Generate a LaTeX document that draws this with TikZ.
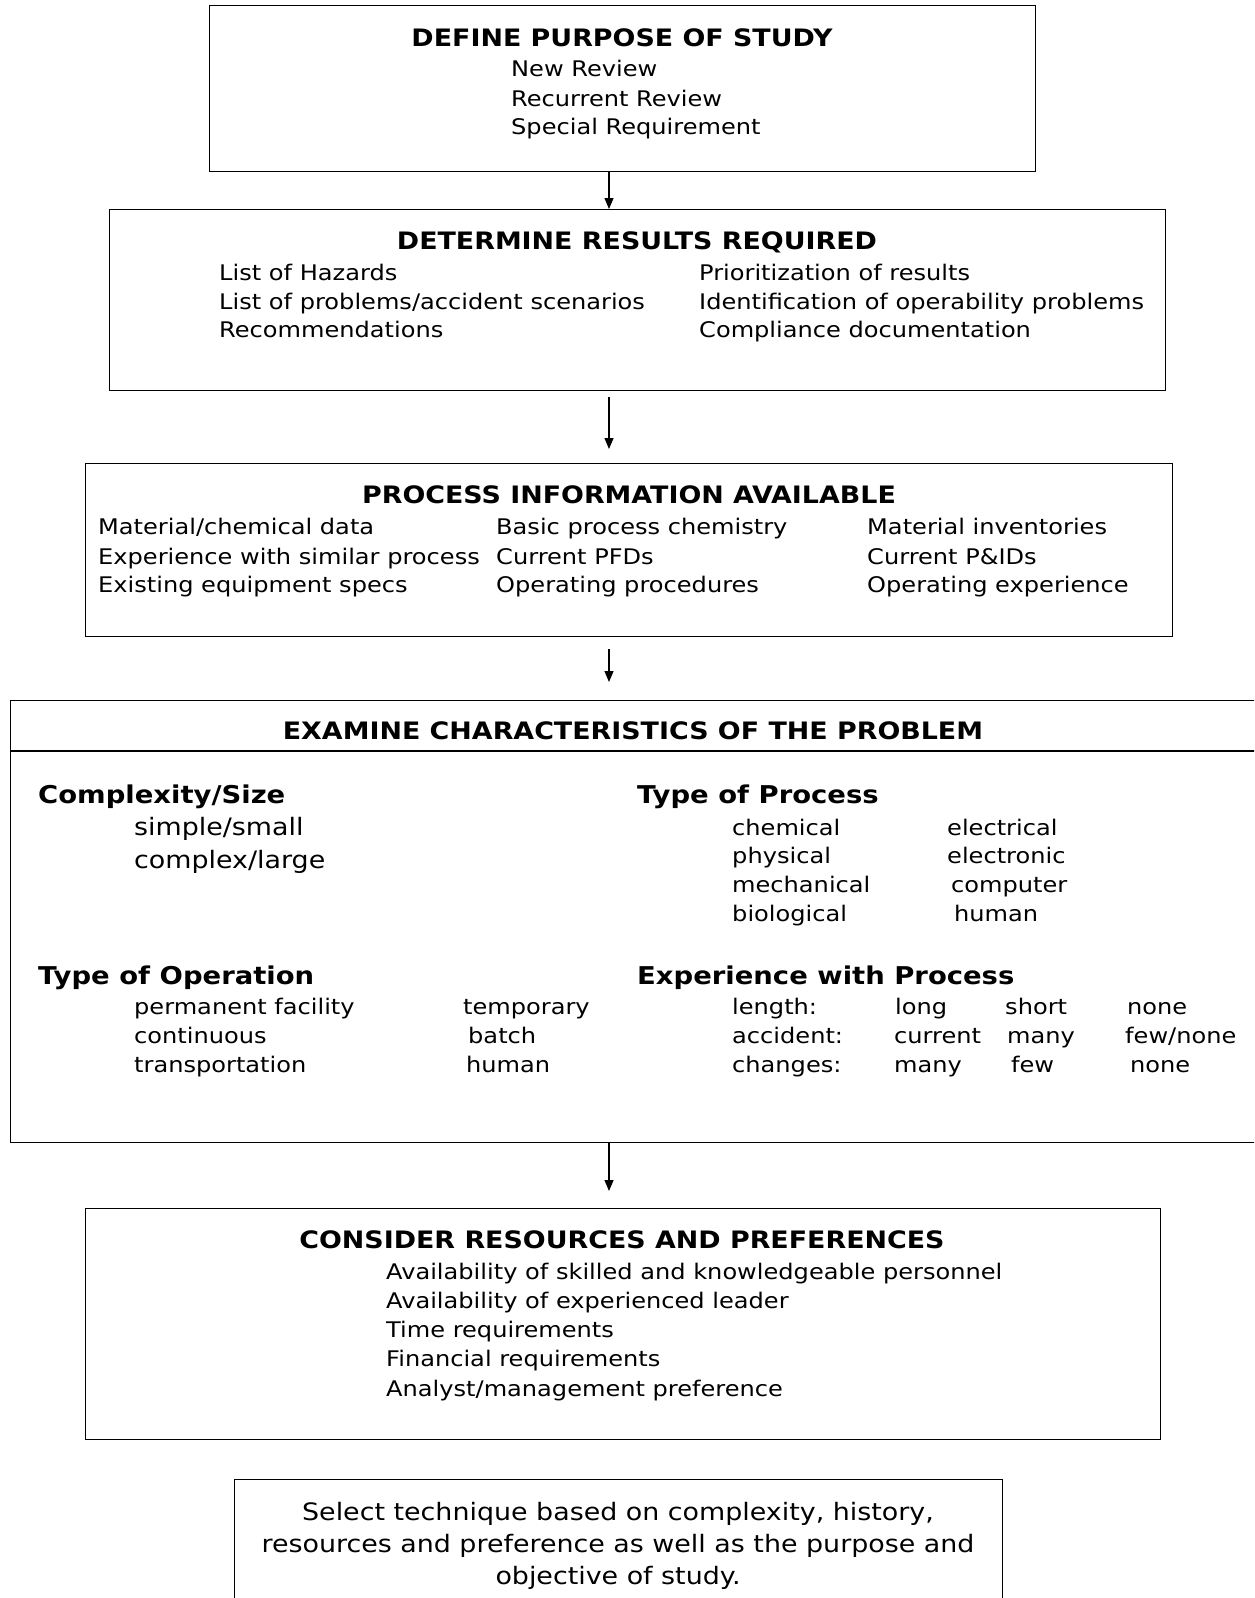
\documentclass[tikz,border=0pt]{standalone}
\usepackage{fontspec}
\setmainfont{DejaVu Sans}[FakeStretch=1.12]
\usetikzlibrary{arrows.meta}
\begin{document}
\begin{tikzpicture}[x=1pt,y=-1pt,
 box/.style={draw, line width=1.2pt, inner sep=0pt, anchor=north west},
 ttl/.style={font=\fontsize{24}{28}\selectfont\bfseries, anchor=base, inner sep=0pt},
 txt/.style={font=\fontsize{21.5}{25}\selectfont, anchor=base west, inner sep=0pt},
 big/.style={font=\fontsize{24}{28}\selectfont, anchor=base west, inner sep=0pt},
 hdr/.style={font=\fontsize{24.5}{28}\selectfont\bfseries, anchor=base west, inner sep=0pt},
 sel/.style={font=\fontsize{24}{32}\selectfont, align=center, anchor=north, inner sep=0pt},
 arr/.style={-{Triangle[length=11pt,width=9pt]}, line width=1.2pt}]
\useasboundingbox (0,0) rectangle (1254,1598);
\clip (0,0) rectangle (1254,1598);
\coordinate (ax) at (609,0);
% Box 1
\node[box, minimum width=826pt, minimum height=166pt] (b1) at (209,5) {};
\node[ttl] (t1) at (622,46) {DEFINE PURPOSE OF STUDY};
\node[txt] (t1a) at (511,76) {New Review};
\node[txt] (t1b) at (511,106) {Recurrent Review};
\node[txt] (t1c) at (511,134) {Special Requirement};
% Box 2
\node[box, minimum width=1056pt, minimum height=181pt] (b2) at (109,209) {};
\node[ttl] (t2) at (637,249) {DETERMINE RESULTS REQUIRED};
\node[txt] (t2a) at (219,280) {List of Hazards};
\node[txt] (t2b) at (219,309) {List of problems/accident scenarios};
\node[txt] (t2c) at (219,337) {Recommendations};
\node[txt] (t2d) at (699,280) {Prioritization of results};
\node[txt] (t2e) at (699,309) {Identification of operability problems};
\node[txt] (t2f) at (699,337) {Compliance documentation};
% Box 3
\node[box, minimum width=1087pt, minimum height=173pt] (b3) at (85,463) {};
\node[ttl] (t3) at (629,503) {PROCESS INFORMATION AVAILABLE};
\node[txt] (t3a) at (98,534) {Material/chemical data};
\node[txt] (t3b) at (98,564) {Experience with similar process};
\node[txt] (t3c) at (98,592) {Existing equipment specs};
\node[txt] (t3d) at (496,534) {Basic process chemistry};
\node[txt] (t3e) at (496,564) {Current PFDs};
\node[txt] (t3f) at (496,592) {Operating procedures};
\node[txt] (t3g) at (867,534) {Material inventories};
\node[txt] (t3h) at (867,564) {Current P\&IDs};
\node[txt] (t3i) at (867,592) {Operating experience};
% Box 4 (open on the right)
\node[box, minimum width=1270pt, minimum height=442pt] (b4) at (10,700) {};
\draw[line width=2pt] (10,751) -- (1270,751);
\node[ttl] (t4) at (633,739) {EXAMINE CHARACTERISTICS OF THE PROBLEM};
\node[hdr] (h1) at (38,803) {Complexity/Size};
\node[big] (h1a) at (134,835) {simple/small};
\node[big] (h1b) at (134,868) {complex/large};
\node[hdr] (h2) at (637,803) {Type of Process};
\node[txt] (h2a) at (732,835) {chemical};
\node[txt] (h2b) at (732,863) {physical};
\node[txt] (h2c) at (732,892) {mechanical};
\node[txt] (h2d) at (732,921) {biological};
\node[txt] (h2e) at (947,835) {electrical};
\node[txt] (h2f) at (947,863) {electronic};
\node[txt] (h2g) at (951,892) {computer};
\node[txt] (h2h) at (954,921) {human};
\node[hdr] (h3) at (38,984) {Type of Operation};
\node[txt] (h3a) at (134,1014) {permanent facility};
\node[txt] (h3b) at (134,1043) {continuous};
\node[txt] (h3c) at (134,1072) {transportation};
\node[txt] (h3d) at (463,1014) {temporary};
\node[txt] (h3e) at (468,1043) {batch};
\node[txt] (h3f) at (466,1072) {human};
\node[hdr] (h4) at (637,984) {Experience with Process};
\node[txt] (h4a) at (732,1014) {length:};
\node[txt] (h4b) at (732,1043) {accident:};
\node[txt] (h4c) at (732,1072) {changes:};
\node[txt] (h4d) at (895,1014) {long};
\node[txt] (h4e) at (894,1043) {current};
\node[txt] (h4f) at (894,1072) {many};
\node[txt] (h4g) at (1005,1014) {short};
\node[txt] (h4h) at (1007,1043) {many};
\node[txt] (h4i) at (1011,1072) {few};
\node[txt] (h4j) at (1127,1014) {none};
\node[txt] (h4k) at (1125,1043) {few/none};
\node[txt] (h4l) at (1130,1072) {none};
% Box 5
\node[box, minimum width=1075pt, minimum height=231pt] (b5) at (85,1208) {};
\node[ttl] (t5) at (622,1248) {CONSIDER RESOURCES AND PREFERENCES};
\node[txt] (t5a) at (386,1279) {Availability of skilled and knowledgeable personnel};
\node[txt] (t5b) at (386,1308) {Availability of experienced leader};
\node[txt] (t5c) at (386,1337) {Time requirements};
\node[txt] (t5d) at (386,1366) {Financial requirements};
\node[txt] (t5e) at (386,1396) {Analyst/management preference};
% Box 6 (cut off at the bottom)
\node[box, minimum width=768pt, minimum height=140pt] (b6) at (234,1479) {};
\node[sel] (t6) at (618,1502) {Select technique based on complexity, history,\\resources and preference as well as the purpose and\\objective of study.};
% Arrows
\draw[arr] (b1.south -| ax) -- (b2.north -| ax);
\draw[arr, shorten <=6pt, shorten >=14pt] (b2.south -| ax) -- (b3.north -| ax);
\draw[arr, shorten <=12pt, shorten >=18pt] (b3.south -| ax) -- (b4.north -| ax);
\draw[arr, shorten >=17pt] (b4.south -| ax) -- (b5.north -| ax);
\end{tikzpicture}
\end{document}
